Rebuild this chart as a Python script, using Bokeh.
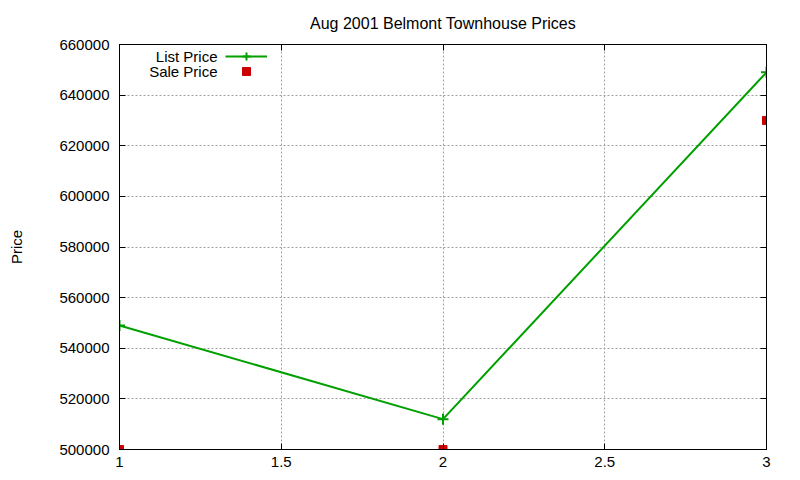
from bokeh.plotting import figure
from bokeh.models import LinearAxis, FixedTicker, BasicTickFormatter, Legend, LegendItem, Range1d, Label
from bokeh.embed import file_html
from bokeh.resources import INLINE

# data
x_vals = [1, 2, 3]
list_price = [549000, 512000, 649000]
sale_price = [500000, 500000, 630000]
x_ticks = [1, 1.5, 2, 2.5, 3]
y_ticks = [500000, 520000, 540000, 560000, 580000, 600000, 620000, 640000, 660000]
series_names = ["List Price", "Sale Price"]
title_text = "Aug 2001 Belmont Townhouse Prices"

FONT = "Liberation Sans"
GREEN = "#00a000"
RED = "#cc0000"

p = figure(width=784, height=472, output_backend="svg", toolbar_location=None,
           x_range=Range1d(1, 3), y_range=Range1d(500000, 660000),
           min_border_left=119, min_border_right=18, min_border_top=44, min_border_bottom=23,
           title=title_text)
p.title.align = "center"
p.title.text_font = FONT
p.title.text_font_size = "16px"
p.title.text_font_style = "normal"
p.title.text_color = "black"
p.title.standoff = 25

p.outline_line_color = "black"
p.outline_line_width = 1
p.background_fill_color = "white"
p.border_fill_color = "white"

def style_axis(ax, labels=True):
    ax.axis_line_color = "black"
    ax.major_tick_in = 6
    ax.major_tick_out = 0
    ax.minor_tick_in = 0
    ax.minor_tick_out = 0
    ax.major_tick_line_color = "black"
    ax.major_label_text_font = FONT
    ax.major_label_text_font_size = "15px"
    ax.major_label_text_color = "black"
    if not labels:
        ax.major_label_text_font_size = "0px"
        ax.major_label_text_color = None
        ax.major_label_standoff = 0

xt = FixedTicker(ticks=x_ticks)
yt = FixedTicker(ticks=y_ticks)

p.xaxis.ticker = xt
p.yaxis.ticker = yt
p.yaxis.formatter = BasicTickFormatter(use_scientific=False)
style_axis(p.xaxis[0])
style_axis(p.yaxis[0])
p.xaxis.major_label_standoff = 7
p.yaxis.major_label_standoff = 10
p.yaxis.axis_label = "Price"
p.yaxis.axis_label_text_font = FONT
p.yaxis.axis_label_text_font_size = "15px"
p.yaxis.axis_label_text_font_style = "normal"
p.yaxis.axis_label_text_color = "black"
p.yaxis.axis_label_standoff = 31

top = LinearAxis(ticker=xt)
style_axis(top, labels=False)
p.add_layout(top, "above")
right = LinearAxis(ticker=yt)
style_axis(right, labels=False)
p.add_layout(right, "right")

for g in (p.xgrid[0], p.ygrid[0]):
    g.grid_line_color = "#a0a0a0"
    g.grid_line_dash = "2 2"
    g.grid_line_width = 1
p.xgrid.ticker = xt
p.ygrid.ticker = yt

l1 = p.line(x_vals, list_price, line_color=GREEN, line_width=2)
m1 = p.scatter(x_vals, list_price, marker="cross", size=11, line_color=GREEN, line_width=2)
m2 = p.scatter(x_vals, sale_price, marker="square", size=8, fill_color=RED, line_color=RED)

# legend samples (gnuplot style: text on the left, sample on the right)
for rends, loc in zip([[l1, m1], [m2]], [(106, 383), (106, 368)]):
    lg = Legend(items=[LegendItem(label=" ", renderers=rends)], location=loc)
    lg.background_fill_alpha = 0
    lg.border_line_color = None
    lg.label_text_font = FONT
    lg.label_text_font_size = "15px"
    lg.glyph_width = 42
    lg.glyph_height = 20
    lg.label_height = 20
    lg.spacing = 0
    lg.padding = 0
    lg.margin = 0
    lg.label_standoff = 0
    p.add_layout(lg, "center")

for name, ys in zip(series_names, [393, 378]):
    p.add_layout(Label(x=98, y=ys, x_units="screen", y_units="screen", text=name,
                       text_align="right", text_baseline="middle", text_font=FONT,
                       text_font_size="15px", text_color="black"))

open("out.html", "w").write(file_html(p, INLINE))
